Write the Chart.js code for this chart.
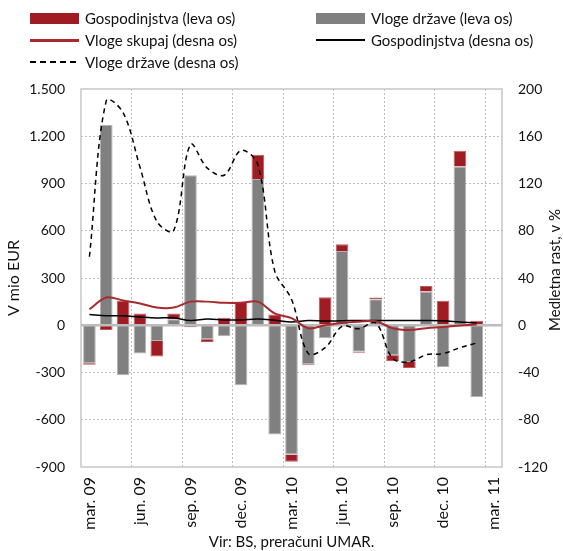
<!DOCTYPE html>
<html>
<head>
<meta charset="utf-8">
<script src="https://cdn.jsdelivr.net/npm/chart.js@4.4.1/dist/chart.umd.min.js"></script>
<style>
  html, body { margin: 0; padding: 0; background: #fff; }
  #wrap { position: relative; width: 563px; height: 551px; font-family: Lato, sans-serif; }
  #chart { position: absolute; left: 0; top: 0; }
  #legend { position: absolute; left: 30px; top: 7px; display: grid; grid-template-columns: 286px auto; grid-auto-rows: 22px; font-size: 15px; color: #111; }
  .item { display: flex; align-items: center; white-space: nowrap; }
  .sym { width: 49px; margin-right: 6px; box-sizing: border-box; }
</style>
</head>
<body>
<div id="wrap">
  <canvas id="chart" width="563" height="551"></canvas>
  <div id="legend"></div>
</div>
<script>
// mesečni podatki, mar. 09 - mar. 11
const months = ['mar. 09', 'apr. 09', 'maj 09', 'jun. 09', 'jul. 09', 'avg. 09', 'sep. 09', 'okt. 09', 'nov. 09', 'dec. 09',
  'jan. 10', 'feb. 10', 'mar. 10', 'apr. 10', 'maj 10', 'jun. 10', 'jul. 10', 'avg. 10', 'sep. 10', 'okt. 10', 'nov. 10', 'dec. 10',
  'jan. 11', 'feb. 11', 'mar. 11'];

// leva os, mio EUR
const gospodinjstvaLeva = [-10, -30, 155, 74, -99, 36, -12, -17, 47, 148, 155, 68, -46, -6, 178, 43, -5, 11, -36, -38, 36, 155, 100, 28, null];
const vlogeDrzaveLeva = [-241, 1273, -318, -180, -100, 38, 953, -89, -70, -381, 928, -693, -820, -248, -83, 472, -169, 165, -191, -233, 214, -265, 1008, -455, null];

// desna os, medletna rast v %
const vlogeSkupajDesna = [13.5, 23.5, 21, 18.5, 15, 15, 20, 20, 19, 19, 20, 10, 6, -2.5, 0, 2, 3, 3.5, -2.5, -4, -2.5, -1.5, -0.3, 0.7, null];
const gospodinjstvaDesna = [9, 8, 8, 7, 6.2, 6.3, 4, 5.2, 4.5, 4.5, 5.3, 4.2, 2.8, 4, 3.5, 3.8, 4, 4, 4, 4, 4, 3.8, 2.8, 2, null];
const vlogeDrzaveDesna = [58, 190, 180, 134, 88, 80, 153, 133, 127, 148, 136, 46, 22, -24, -19, -1, -3, 2, -28, -31, -25, -24, -19, -15, null];

const RED = '#9e1c22';
const GRAY = '#808080';
const GRID = '#bdbdbd';
const rightTitle = 'Medletna rast, v %';

// pika kot ločilo tisočic
const fmt = v => (v < 0 ? '-' : '') + String(Math.abs(v)).replace(/\B(?=(\d{3})+(?!\d))/g, '.');

// okvir, ničelna črta nad stolpci, naslov desne osi (bere se od spodaj navzgor)
const frame = {
  id: 'frame',
  beforeDatasetsDraw(chart) {
    const { ctx, chartArea: a } = chart;
    ctx.save();
    ctx.strokeStyle = '#c6c6c6';
    ctx.lineWidth = 1.5;
    ctx.strokeRect(a.left, a.top, a.right - a.left, a.bottom - a.top);
    ctx.restore();
  },
  afterDatasetDraw(chart, args) {
    if (args.index !== 0) return;
    const { ctx, chartArea: a } = chart;
    const y = chart.scales.y.getPixelForValue(0);
    ctx.save();
    ctx.strokeStyle = '#bcbcbc';
    ctx.lineWidth = 2.5;
    ctx.beginPath();
    ctx.moveTo(a.left, y);
    ctx.lineTo(a.right, y);
    ctx.stroke();
    ctx.restore();
  },
  afterDraw(chart) {
    const { ctx } = chart;
    const s = chart.scales.y1;
    ctx.save();
    ctx.translate(s.right - 8, (s.top + s.bottom) / 2 - 8);
    ctx.rotate(-Math.PI / 2);
    ctx.font = '15px Lato, sans-serif';
    ctx.fillStyle = '#111';
    ctx.textAlign = 'center';
    ctx.textBaseline = 'middle';
    ctx.fillText(rightTitle, 0, 0);
    ctx.restore();
  }
};

const ctx = document.getElementById('chart').getContext('2d');
Chart.defaults.font.family = 'Lato, sans-serif';
Chart.defaults.font.size = 14;
Chart.defaults.color = '#111';

const chart = new Chart(ctx, {
  data: {
    labels: months,
    datasets: [
      { type: 'bar', label: 'Vloge države (leva os)', data: vlogeDrzaveLeva, backgroundColor: GRAY, borderColor: '#b3b3b3', borderWidth: 1, yAxisID: 'y', order: 2, barPercentage: 0.75, categoryPercentage: 1 },
      { type: 'bar', label: 'Gospodinjstva (leva os)', data: gospodinjstvaLeva, backgroundColor: RED, borderColor: '#c2575b', borderWidth: 1, yAxisID: 'y', order: 2, barPercentage: 0.75, categoryPercentage: 1 },
      { type: 'line', label: 'Vloge skupaj (desna os)', data: vlogeSkupajDesna, borderColor: '#a82a2e', borderWidth: 2, pointRadius: 0, tension: 0.35, yAxisID: 'y1', order: 1 },
      { type: 'line', label: 'Gospodinjstva (desna os)', data: gospodinjstvaDesna, borderColor: '#000', borderWidth: 1.5, pointRadius: 0, tension: 0.35, yAxisID: 'y1', order: 1 },
      { type: 'line', label: 'Vloge države (desna os)', data: vlogeDrzaveDesna, borderColor: '#000', borderWidth: 1.5, borderDash: [5, 4], pointRadius: 0, tension: 0.35, yAxisID: 'y1', order: 1 }
    ]
  },
  options: {
    responsive: false,
    animation: false,
    layout: { padding: { top: 89 } },
    plugins: { legend: { display: false }, tooltip: { enabled: false } },
    scales: {
      x: {
        stacked: true,
        grid: {
          offset: true,
          drawTicks: false,
          color: c => (c.index > 0 && c.index % 3 === 0) ? GRID : 'transparent'
        },
        border: { display: false, dash: [2, 2] },
        ticks: {
          autoSkip: false, maxRotation: 90, minRotation: 90, padding: 10,
          font: { size: 16 },
          callback: (v, i) => i % 3 === 0 ? months[i] : ''
        },
        title: { display: true, text: 'Vir: BS, preračuni UMAR.', padding: 0, font: { size: 15 } },
        afterFit: s => { s.height = 84; }
      },
      y: {
        stacked: true,
        position: 'left',
        min: -900, max: 1500,
        ticks: { stepSize: 300, padding: 16, callback: fmt },
        grid: {
          drawTicks: false,
          color: c => (c.tick && c.tick.value !== 0 && c.tick.value !== 1500 && c.tick.value !== -900) ? GRID : 'transparent'
        },
        border: { display: false, dash: [2, 2] },
        title: { display: true, text: 'V mio EUR', padding: { top: 4 }, font: { size: 16 } },
        afterFit: s => { s.width = 81; }
      },
      y1: {
        position: 'right',
        min: -120, max: 200,
        ticks: { stepSize: 40, padding: 16 },
        grid: { drawOnChartArea: false, drawTicks: false },
        border: { display: false },
        afterFit: s => { s.width = 61; }
      }
    }
  },
  plugins: [frame]
});

// legenda v dveh stolpcih, kot v izvirniku
const legendOrder = [1, 0, 2, 3, 4];
const legend = document.getElementById('legend');
legendOrder.forEach(i => {
  const ds = chart.data.datasets[i];
  const item = document.createElement('div');
  item.className = 'item';
  const sym = document.createElement('span');
  sym.className = 'sym';
  if (ds.type === 'bar') {
    sym.style.height = '11px';
    sym.style.background = ds.backgroundColor;
  } else if (ds.borderDash) {
    sym.style.height = '1.5px';
    sym.style.background = 'repeating-linear-gradient(to right, #000 0 6px, transparent 6px 10px)';
  } else {
    sym.style.height = ds.borderWidth + 1 + 'px';
    sym.style.background = ds.borderColor;
  }
  const txt = document.createElement('span');
  txt.textContent = ds.label;
  item.appendChild(sym);
  item.appendChild(txt);
  legend.appendChild(item);
});
</script>
</body>
</html>
